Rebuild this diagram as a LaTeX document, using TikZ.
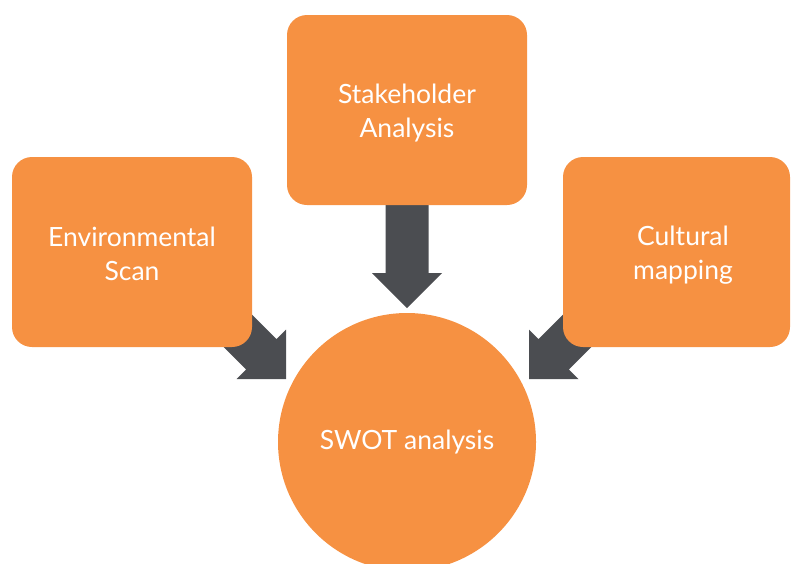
\documentclass[tikz,border=0pt]{standalone}
\usepackage{fontspec}
\setmainfont{Lato}
\usetikzlibrary{calc}

\definecolor{boxorange}{HTML}{F69142}
\definecolor{arrowgray}{HTML}{4B4D51}

% Block arrow with a square-cut shaft and a right-angled head, from #1 to tip #2
\newcommand{\blockarrow}[2]{%
  \coordinate (hb) at ($(#2)!35pt!(#1)$);
  \fill[arrowgray]
    ($(#1)!21.5pt!90:(#2)$) -- ($(hb)!21.5pt!90:(#2)$) --
    ($(hb)!35pt!90:(#2)$) -- (#2) -- ($(hb)!35pt!-90:(#2)$) --
    ($(hb)!21.5pt!-90:(#2)$) -- ($(#1)!21.5pt!-90:(#2)$) -- cycle;
}

\tikzset{
  card/.style={fill=boxorange, rounded corners=20pt, minimum height=190pt,
    minimum width=240pt, inner sep=0pt},
  caption/.style={text=white, font=\fontsize{26.5}{34}\selectfont, align=center},
}

\begin{document}
\begin{tikzpicture}[x=1pt, y=-1pt]
  \useasboundingbox (0,0) rectangle (791,563);

  % arrow ends
  \coordinate (sTop) at (407,180);
  \coordinate (tTop) at (407,308);
  \coordinate (sLeft) at (176,269);
  \coordinate (tLeft) at (286,379);
  \coordinate (sRight) at (639,269);
  \coordinate (tRight) at (529,379);

  \blockarrow{sTop}{tTop}
  \blockarrow{sLeft}{tLeft}
  \blockarrow{sRight}{tRight}

  % input cards
  \node[card] (stake) at (407,110) {};
  \node[card] (env) at (132,252) {};
  \node[card, minimum width=227pt] (cult) at (676.5,252) {};
  \node[caption] (stakelabel) at ($(stake.center)+(0,3)$) {Stakeholder\\Analysis};
  \node[caption] (envlabel) at ($(env.center)+(0,1.5)$) {Environmental\\Scan};
  \node[caption] (cultlabel) at (683,255) {Cultural\\mapping};

  % result
  \node[circle, fill=boxorange, minimum size=258pt, inner sep=0pt, caption]
    (swot) at (407,442) {SWOT analysis};
\end{tikzpicture}
\end{document}
